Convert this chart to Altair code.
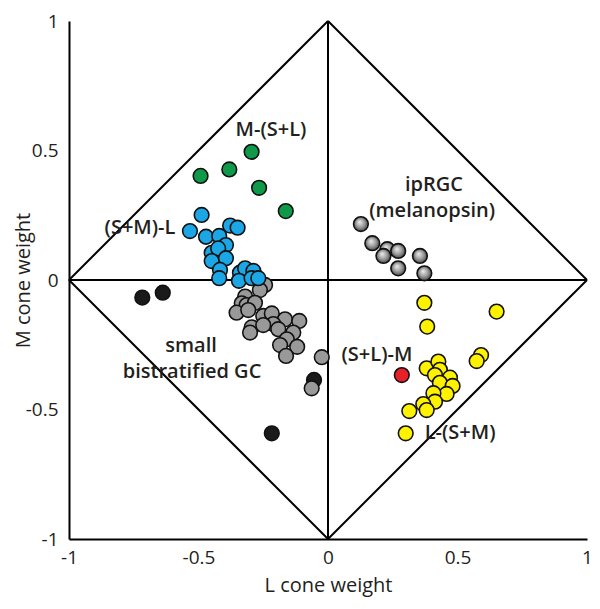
import altair as alt
import pandas as pd

# ---------------- data ----------------
black_x = [-0.717, -0.638, -0.217, -0.054]
black_y = [-0.068, -0.049, -0.592, -0.386]

gray_x = [-0.243, -0.263, -0.320, -0.333, -0.314, -0.282, -0.353, -0.308, -0.250, -0.217,
          -0.166, -0.111, -0.211, -0.192, -0.295, -0.301, -0.250, -0.134, -0.159, -0.185,
          -0.119, -0.162, -0.024, -0.063]
gray_y = [-0.019, -0.039, -0.064, -0.090, -0.097, -0.088, -0.126, -0.116, -0.139, -0.129,
          -0.152, -0.158, -0.170, -0.190, -0.183, -0.203, -0.174, -0.203, -0.229, -0.251,
          -0.258, -0.293, -0.298, -0.418]

blue_x = [-0.488, -0.533, -0.471, -0.378, -0.349, -0.420, -0.394, -0.449, -0.424, -0.449,
          -0.394, -0.417, -0.420, -0.340, -0.320, -0.288, -0.344, -0.295, -0.269]
blue_y = [0.251, 0.189, 0.167, 0.210, 0.202, 0.170, 0.135, 0.105, 0.122, 0.073,
          0.084, 0.039, 0.007, 0.028, 0.045, 0.035, -0.003, 0.007, 0.007]

green_x = [-0.295, -0.381, -0.492, -0.266, -0.163]
green_y = [0.495, 0.427, 0.402, 0.356, 0.266]

yellow_x = [0.372, 0.651, 0.383, 0.591, 0.574, 0.381, 0.426, 0.432, 0.413, 0.471,
            0.432, 0.481, 0.458, 0.407, 0.413, 0.368, 0.381, 0.314, 0.300]
yellow_y = [-0.088, -0.122, -0.180, -0.290, -0.313, -0.341, -0.315, -0.347, -0.367, -0.377,
            -0.397, -0.409, -0.440, -0.437, -0.470, -0.479, -0.502, -0.506, -0.592]

red_x = [0.285]
red_y = [-0.367]

iprgc_x = [0.127, 0.171, 0.229, 0.214, 0.271, 0.355, 0.271, 0.372]
iprgc_y = [0.216, 0.142, 0.119, 0.093, 0.112, 0.093, 0.045, 0.026]

group_names = ["black", "gray", "blue", "green", "yellow", "red"]
group_colors = ["#1a1a1a", "#999999", "#1ba6e6", "#0e9a48", "#fff200", "#e8202a"]

label_text = ["M-(S+L)", "(S+M)-L", "ipRGC", "(melanopsin)", "small",
              "bistratified GC", "(S+L)-M", "L-(S+M)"]
label_x = [-0.220, -0.726, 0.409, 0.402, -0.529, -0.525, 0.189, 0.510]
label_y = [0.579, 0.201, 0.367, 0.266, -0.255, -0.355, -0.290, -0.591]

tick_values = [-1, -0.5, 0, 0.5, 1]

# diamond + cross segments
seg_x = [-1, 0, 1, 0, -1, 0]
seg_y = [0, 1, 0, -1, 0, -1]
seg_x2 = [0, 1, 0, -1, 1, 0]
seg_y2 = [1, 0, -1, 0, 0, 1]

# ---------------- tables ----------------
rows = []
for name, xs_, ys_ in [("black", black_x, black_y), ("gray", gray_x, gray_y),
                       ("blue", blue_x, blue_y), ("green", green_x, green_y),
                       ("yellow", yellow_x, yellow_y), ("red", red_x, red_y)]:
    for a, b in zip(xs_, ys_):
        rows.append({"x": a, "y": b, "group": name})
pts = pd.DataFrame(rows)
pts["order"] = range(len(pts))

ip = pd.DataFrame({"x": iprgc_x, "y": iprgc_y})
segs = pd.DataFrame({"x": seg_x, "y": seg_y, "x2": seg_x2, "y2": seg_y2})
labels = pd.DataFrame({"t": label_text, "x": label_x, "y": label_y})

FONT = "Open Sans"
TXT = "#231f20"
xscale = alt.Scale(domain=[-1, 1], nice=False, zero=False)
yscale = alt.Scale(domain=[-1, 1], nice=False, zero=False)

xaxis = alt.Axis(values=tick_values, labelExpr="toString(datum.value)", title="L cone weight",
                 ticks=False, grid=False, domainColor="black", domainWidth=2,
                 labelFontSize=19, labelPadding=9, titleFontSize=20, titlePadding=8,
                 titleFontWeight="normal", labelColor=TXT, titleColor=TXT,
                 labelFont=FONT, titleFont=FONT, labelFlush=False)
yaxis = alt.Axis(values=tick_values, labelExpr="toString(datum.value)", title="M cone weight",
                 ticks=False, grid=False, domainColor="black", domainWidth=2,
                 labelFontSize=19, labelPadding=11, titleFontSize=20, titlePadding=-8,
                 titleFontWeight="normal", labelColor=TXT, titleColor=TXT,
                 labelFont=FONT, titleFont=FONT, labelFlush=False)

X = alt.X("x:Q", scale=xscale, axis=xaxis)
Y = alt.Y("y:Q", scale=yscale, axis=yaxis)

rules = alt.Chart(segs).mark_rule(color="black", strokeWidth=2).encode(
    x=X, y=Y, x2="x2:Q", y2="y2:Q",
)

points = alt.Chart(pts).mark_circle(size=215, opacity=1, stroke="#111111", strokeWidth=1.6).encode(
    x=X, y=Y,
    fill=alt.Fill("group:N", scale=alt.Scale(domain=group_names, range=group_colors), legend=None),
    order="order:Q",
)

grad = alt.RadialGradient(
    gradient="radial",
    stops=[alt.GradientStop(offset=0, color="#f0f0f0"),
           alt.GradientStop(offset=0.55, color="#9a9a9a"),
           alt.GradientStop(offset=1, color="#3a3a3a")],
    x1=0.4, y1=0.35, r1=0, x2=0.5, y2=0.5, r2=0.55,
)
iprgc = alt.Chart(ip).mark_circle(size=215, opacity=1, fill=grad, stroke="#111111", strokeWidth=1.6).encode(
    x=X, y=Y,
)

texts = alt.Chart(labels).mark_text(font=FONT, fontSize=20, fontWeight=600, color=TXT,
                                    align="center", baseline="middle").encode(
    x=X, y=Y, text="t:N",
)

chart = alt.layer(rules, points, iprgc, texts).properties(
    width=518, height=518,
    autosize=alt.AutoSizeParams(type="none"),
    padding={"left": 61, "top": 13, "right": 5, "bottom": 60},
).configure_view(stroke=None)

chart.save("out.html", embed_options={"renderer": "svg", "actions": False})
